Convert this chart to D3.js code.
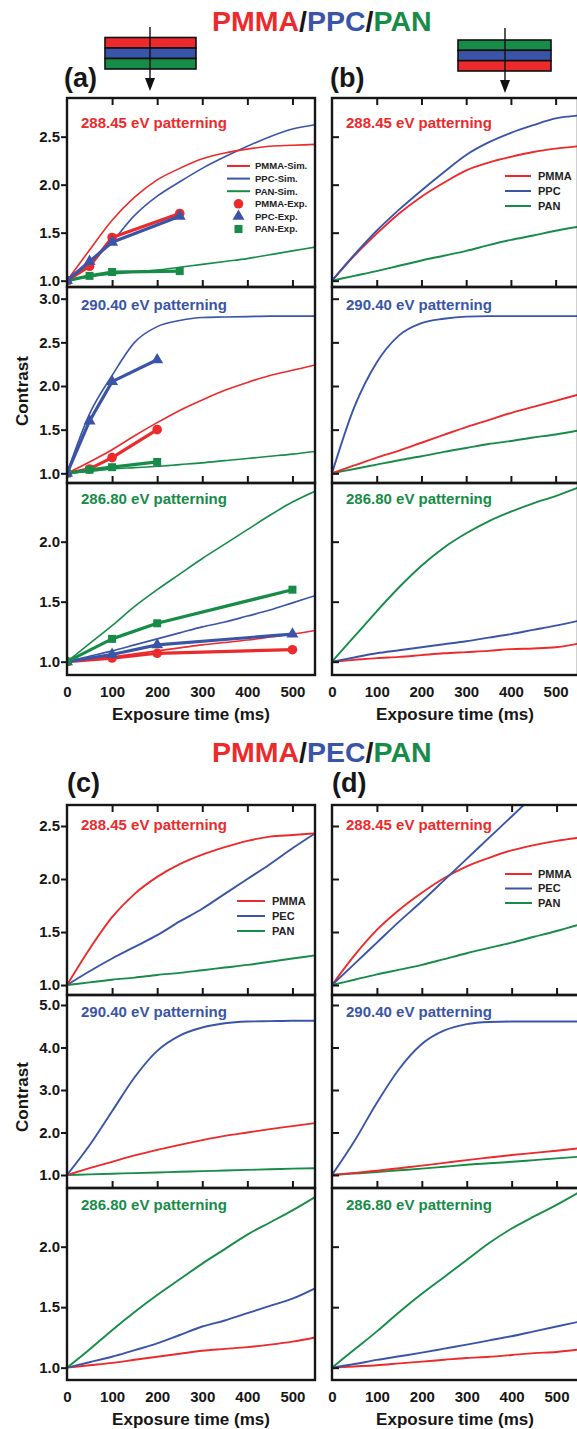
<!DOCTYPE html>
<html><head><meta charset="utf-8">
<script src="https://cdn.jsdelivr.net/npm/d3@7"></script>
<style>
body{margin:0;background:#fff;}
text{font-family:"Liberation Sans",Arial,sans-serif;}
</style></head>
<body>
<svg id="c" width="577" height="1429"></svg>
<script>
// ---------------- DATA ----------------
const T = [0,50,100,150,200,250,300,350,400,450,500,550];      // exposure time (ms), simulations
const xTicks = [0,100,200,300,400,500];

// PMMA/PPC/PAN, top-down PMMA/PPC/PAN (a)
const a288_PMMA = [1.00,1.32,1.63,1.87,2.05,2.17,2.27,2.33,2.37,2.40,2.41,2.42];
const a288_PPC  = [1.00,1.20,1.41,1.68,1.88,2.03,2.17,2.29,2.40,2.50,2.58,2.625];
const a288_PAN  = [1.00,1.04,1.07,1.09,1.11,1.14,1.17,1.20,1.23,1.27,1.31,1.35];
const a290_PPC  = [1.00,1.68,2.12,2.50,2.68,2.75,2.785,2.79,2.795,2.80,2.80,2.80];
const a290_PMMA = [1.00,1.13,1.27,1.43,1.58,1.72,1.84,1.95,2.04,2.12,2.18,2.24];
const a290_PAN  = [1.00,1.02,1.05,1.065,1.08,1.10,1.12,1.145,1.17,1.195,1.22,1.25];
const a286_PAN  = [1.00,1.15,1.30,1.46,1.60,1.73,1.86,1.98,2.10,2.22,2.33,2.42];
const a286_PPC  = [1.00,1.045,1.09,1.14,1.19,1.24,1.29,1.33,1.38,1.43,1.49,1.55];
const a286_PMMA = [1.00,1.02,1.04,1.065,1.09,1.115,1.14,1.16,1.18,1.205,1.23,1.26];

// experiments (a)
const a288_expT = [0,50,100,250];
const a288_PMMA_exp = [1.00,1.15,1.45,1.70];
const a288_PPC_exp  = [1.00,1.20,1.40,1.67];
const a288_PAN_exp  = [1.00,1.05,1.09,1.10];
const a290_expT = [0,50,100,200];
const a290_PPC_exp  = [1.00,1.60,2.05,2.30];
const a290_PMMA_exp = [1.00,1.05,1.18,1.50];
const a290_PAN_exp  = [1.00,1.04,1.07,1.13];
const a286_expT = [0,100,200,500];
const a286_PAN_exp  = [1.00,1.19,1.32,1.60];
const a286_PPC_exp  = [1.00,1.06,1.14,1.23];
const a286_PMMA_exp = [1.00,1.03,1.07,1.10];

// (b) reversed stack
const b288_PPC  = [1.00,1.27,1.52,1.74,1.94,2.13,2.31,2.44,2.54,2.62,2.69,2.72];
const b288_PMMA = [1.00,1.26,1.49,1.70,1.875,2.02,2.15,2.23,2.29,2.34,2.375,2.40];
const b288_PAN  = [1.00,1.05,1.10,1.155,1.21,1.26,1.31,1.37,1.425,1.47,1.52,1.56];
const b290_PPC  = [1.00,1.76,2.27,2.58,2.72,2.77,2.795,2.80,2.80,2.80,2.80,2.80];
const b290_PMMA = [1.00,1.09,1.18,1.26,1.35,1.44,1.53,1.61,1.69,1.76,1.83,1.90];
const b290_PAN  = [1.00,1.05,1.10,1.15,1.195,1.245,1.29,1.335,1.37,1.41,1.445,1.49];
const b286_PAN  = [1.00,1.21,1.42,1.62,1.80,1.95,2.07,2.17,2.25,2.32,2.38,2.45];
const b286_PPC  = [1.00,1.035,1.07,1.095,1.12,1.145,1.17,1.20,1.23,1.265,1.30,1.34];
const b286_PMMA = [1.00,1.015,1.03,1.04,1.055,1.07,1.08,1.09,1.105,1.11,1.12,1.15];

// (c) PMMA/PEC/PAN
const c288_PMMA = [1.00,1.34,1.64,1.86,2.02,2.14,2.23,2.30,2.36,2.40,2.415,2.43];
const c288_PEC  = [1.00,1.13,1.25,1.36,1.47,1.60,1.72,1.86,2.00,2.14,2.29,2.43];
const c288_PAN  = [1.00,1.025,1.05,1.07,1.095,1.115,1.14,1.165,1.19,1.22,1.25,1.28];
const c290_PEC  = [1.00,1.70,2.50,3.30,3.92,4.28,4.47,4.57,4.61,4.62,4.63,4.63];
const c290_PMMA = [1.00,1.16,1.31,1.46,1.59,1.71,1.82,1.92,2.00,2.08,2.15,2.22];
const c290_PAN  = [1.00,1.015,1.03,1.045,1.06,1.075,1.09,1.105,1.12,1.135,1.15,1.16];
const c286_PAN  = [1.00,1.15,1.31,1.46,1.60,1.73,1.86,1.98,2.10,2.20,2.30,2.41];
const c286_PEC  = [1.00,1.045,1.09,1.145,1.20,1.27,1.34,1.39,1.45,1.51,1.57,1.655];
const c286_PMMA = [1.00,1.02,1.04,1.065,1.09,1.115,1.14,1.155,1.17,1.19,1.215,1.25];

// (d)
const d288_PMMA = [1.00,1.28,1.52,1.71,1.87,2.01,2.12,2.20,2.27,2.32,2.36,2.39];
const d288_PEC  = [1.00,1.20,1.40,1.60,1.79,1.99,2.19,2.39,2.59,2.79,2.99,3.18];
const d288_PAN  = [1.00,1.05,1.10,1.145,1.19,1.245,1.30,1.35,1.40,1.455,1.51,1.57];
const d290_PEC  = [1.00,1.80,2.70,3.50,4.08,4.40,4.55,4.60,4.61,4.61,4.61,4.61];
const d290_PMMA = [1.00,1.05,1.10,1.16,1.22,1.285,1.35,1.41,1.47,1.52,1.57,1.63];
const d290_PAN  = [1.00,1.035,1.07,1.11,1.15,1.195,1.24,1.275,1.31,1.35,1.39,1.43];
const d286_PAN  = [1.00,1.15,1.30,1.46,1.61,1.75,1.89,2.03,2.15,2.25,2.345,2.45];
const d286_PEC  = [1.00,1.03,1.064,1.094,1.124,1.157,1.19,1.225,1.26,1.30,1.34,1.38];
const d286_PMMA = [1.00,1.01,1.02,1.035,1.05,1.065,1.08,1.09,1.105,1.12,1.13,1.15];

const ticksA1 = [1.0,1.5,2.0,2.5];
const ticksA2 = [1.0,1.5,2.0,2.5,3.0];
const ticksA3 = [1.0,1.5,2.0];
const ticksC1 = [1.0,1.5,2.0,2.5];
const ticksC2 = [1.0,2.0,3.0,4.0,5.0];
const ticksC3 = [1.0,1.5,2.0];

// ---------------- STYLE ----------------
const RED = "#ec2a2c", BLUE = "#3a55a8", GREEN = "#178c48", INK = "#161616";
const FONT = '"Liberation Sans",Arial,sans-serif';
const svg = d3.select("#c");

// titles
function title(y, mid) {
  const t = svg.append("text").attr("x", 212).attr("y", y)
    .attr("font-size", 28.5).attr("font-weight", "bold");
  t.append("tspan").attr("fill", RED).text("PMMA");
  t.append("tspan").attr("fill", INK).text("/");
  t.append("tspan").attr("fill", BLUE).text(mid);
  t.append("tspan").attr("fill", INK).text("/");
  t.append("tspan").attr("fill", GREEN).text("PAN");
}
title(31, "PPC");
title(762, "PEC");

// layer stack icons
function stack(x, y, w, h, cols, ax, ay0, ay1) {
  const g = svg.append("g");
  const lh = h / 3;
  cols.forEach((c, i) => g.append("rect").attr("x", x).attr("y", y + i * lh)
    .attr("width", w).attr("height", lh).attr("fill", c)
    .attr("stroke", "#111").attr("stroke-width", 1.6));
  g.append("line").attr("x1", ax).attr("x2", ax).attr("y1", ay0).attr("y2", ay1 - 10)
    .attr("stroke", "#111").attr("stroke-width", 1.4);
  g.append("path").attr("d", `M${ax-5},${ay1-13}L${ax+5},${ay1-13}L${ax},${ay1}Z`).attr("fill", "#111");
}
stack(105, 37.5, 91, 31.5, [RED, BLUE, GREEN], 150, 27, 91);
stack(458, 40, 93, 31, [GREEN, BLUE, RED], 505, 28, 93);

// panel letters
[["(a)", 64, 87], ["(b)", 330, 87], ["(c)", 67, 792], ["(d)", 332, 792]].forEach(([s, x, y]) =>
  svg.append("text").attr("x", x).attr("y", y).attr("font-size", 27).attr("font-weight", "bold")
    .attr("fill", INK).text(s));

const sym = {
  circle: d3.symbol().type(d3.symbolCircle).size(72),
  triangle: d3.symbol().type(d3.symbolTriangle).size(62),
  square: d3.symbol().type(d3.symbolSquare).size(64)
};

let clipN = 0;
function drawPanel(p) {
  const x = d3.scaleLinear().domain([0, 550]).range(p.xr);
  p.subs.forEach((s, i) => {
    const y = d3.scaleLinear().domain(s.domain).range(s.range);
    const g = svg.append("g");
    const id = "clip" + (clipN++);
    g.append("clipPath").attr("id", id).append("rect")
      .attr("x", p.xr[0]).attr("y", s.range[1])
      .attr("width", p.xr[1] - p.xr[0]).attr("height", s.range[0] - s.range[1]);
    const plot = g.append("g").attr("clip-path", `url(#${id})`);
    const simLine = d3.line().x((d, k) => x(T[k])).y(d => y(d)).curve(d3.curveMonotoneX);
    s.sims.forEach(ser => plot.append("path").attr("d", simLine(ser.v))
      .attr("fill", "none").attr("stroke", ser.c).attr("stroke-width", p.lw));
    (s.exps || []).forEach(ser => {
      const pts = ser.t.map((t, k) => [x(t), y(ser.v[k])]);
      plot.append("path").attr("d", d3.line()(pts)).attr("fill", "none")
        .attr("stroke", ser.c).attr("stroke-width", 3.2).attr("stroke-linejoin", "round");
      pts.forEach(pt => plot.append("path").attr("d", sym[ser.m]())
        .attr("transform", `translate(${pt[0]},${pt[1]})`).attr("fill", ser.c));
    });
    // y axis
    const yAx = p.ylab
      ? d3.axisLeft(y).tickValues(s.ticks).tickSize(6).tickPadding(1).tickFormat(d3.format(".1f"))
      : d3.axisRight(y).tickValues(s.ticks).tickSize(7).tickFormat("");
    const ya = g.append("g").attr("transform", `translate(${p.xr[0]},0)`).call(yAx);
    ya.select(".domain").remove();
    ya.selectAll("line").attr("stroke", INK).attr("stroke-width", 2);
    ya.selectAll("text").attr("font-size", 15).attr("font-weight", "bold").attr("fill", INK)
      .attr("font-family", FONT);
    // x ticks
    const inner = xTicks.slice(1);
    if (i < 2) {
      const xa = g.append("g").attr("transform", `translate(0,${s.range[0]})`)
        .call(d3.axisTop(x).tickValues(inner).tickSize(7).tickFormat(""));
      xa.select(".domain").remove();
      xa.selectAll("line").attr("stroke", INK).attr("stroke-width", 2);
    }
    if (i === 0) {
      const xa = g.append("g").attr("transform", `translate(0,${s.range[1]})`)
        .call(d3.axisBottom(x).tickValues(inner).tickSize(7).tickFormat(""));
      xa.select(".domain").remove();
      xa.selectAll("line").attr("stroke", INK).attr("stroke-width", 2);
    }
    if (i === 2) {
      const xa = g.append("g").attr("transform", `translate(0,${s.range[0]})`)
        .call(d3.axisBottom(x).tickValues(xTicks).tickSize(0).tickPadding(11).tickFormat(d3.format("d")));
      xa.select(".domain").remove();
      xa.selectAll("text").attr("font-size", 15).attr("font-weight", "bold").attr("fill", INK)
        .attr("font-family", FONT);
      g.append("text").attr("x", (p.xr[0] + Math.min(p.xr[1], 578)) / 2).attr("y", s.range[0] + 45)
        .attr("text-anchor", "middle").attr("font-size", 17).attr("font-weight", "bold")
        .attr("fill", INK).text("Exposure time (ms)");
    }
    // frame
    g.append("rect").attr("x", p.xr[0]).attr("y", s.range[1])
      .attr("width", p.xr[1] - p.xr[0]).attr("height", s.range[0] - s.range[1])
      .attr("fill", "none").attr("stroke", INK).attr("stroke-width", 2.4);
    // energy label
    g.append("text").attr("x", p.xr[0] + 14).attr("y", s.labelY)
      .attr("font-size", 15).attr("font-weight", "bold").attr("fill", s.lc).text(s.label);
    // legend
    if (s.legend) {
      const L = s.legend;
      L.items.forEach((it, k) => {
        const yy = L.y + k * L.dy;
        if (it.m) {
          g.append("path").attr("d", sym[it.m]()).attr("transform", `translate(${(L.x0 + L.x1) / 2},${yy})`)
            .attr("fill", it.c);
        } else {
          g.append("line").attr("x1", L.x0).attr("x2", L.x1).attr("y1", yy).attr("y2", yy)
            .attr("stroke", it.c).attr("stroke-width", 2);
        }
        g.append("text").attr("x", L.tx).attr("y", yy).attr("dy", "0.35em")
          .attr("font-size", L.fs).attr("font-weight", "bold").attr("fill", "#222").text(it.name);
      });
    }
  });
  if (p.ylab) {
    svg.append("text").attr("transform", `translate(27.5,${p.cy}) rotate(-90)`)
      .attr("text-anchor", "middle").attr("font-size", 17).attr("font-weight", "bold")
      .attr("fill", INK).text("Contrast");
  }
}

const top3 = [
  {range: [287, 98], domain: [0.934, 2.903], ticks: ticksA1, label: "288.45 eV patterning", lc: RED, labelY: 128},
  {range: [483, 287], domain: [0.889, 3.134], ticks: ticksA2, label: "290.40 eV patterning", lc: BLUE, labelY: 310},
  {range: [675, 483], domain: [0.889, 2.489], ticks: ticksA3, label: "286.80 eV patterning", lc: GREEN, labelY: 504}
];
const bot3 = [
  {range: [995, 805], domain: [0.906, 2.698], ticks: ticksC1, label: "288.45 eV patterning", lc: RED, labelY: 830},
  {range: [1188, 995], domain: [0.694, 5.235], ticks: ticksC2, label: "290.40 eV patterning", lc: BLUE, labelY: 1017},
  {range: [1380, 1188], domain: [0.898, 2.485], ticks: ticksC3, label: "286.80 eV patterning", lc: GREEN, labelY: 1210}
];
const S = (v, c) => ({v, c});
const E = (t, v, c, m) => ({t, v, c, m});

drawPanel({xr: [67, 315], ylab: true, lw: 1.6, cy: 391, subs: [
  Object.assign({}, top3[0], {
    sims: [S(a288_PAN, GREEN), S(a288_PPC, BLUE), S(a288_PMMA, RED)],
    exps: [E(a288_expT, a288_PAN_exp, GREEN, "square"), E(a288_expT, a288_PMMA_exp, RED, "circle"), E(a288_expT, a288_PPC_exp, BLUE, "triangle")],
    legend: {x0: 227, x1: 250, tx: 255, y: 166, dy: 12.6, fs: 9.5, items: [
      {name: "PMMA-Sim.", c: RED}, {name: "PPC-Sim.", c: BLUE}, {name: "PAN-Sim.", c: GREEN},
      {name: "PMMA-Exp.", c: RED, m: "circle"}, {name: "PPC-Exp.", c: BLUE, m: "triangle"}, {name: "PAN-Exp.", c: GREEN, m: "square"}]}
  }),
  Object.assign({}, top3[1], {
    sims: [S(a290_PAN, GREEN), S(a290_PMMA, RED), S(a290_PPC, BLUE)],
    exps: [E(a290_expT, a290_PMMA_exp, RED, "circle"), E(a290_expT, a290_PAN_exp, GREEN, "square"), E(a290_expT, a290_PPC_exp, BLUE, "triangle")]
  }),
  Object.assign({}, top3[2], {
    sims: [S(a286_PMMA, RED), S(a286_PPC, BLUE), S(a286_PAN, GREEN)],
    exps: [E(a286_expT, a286_PMMA_exp, RED, "circle"), E(a286_expT, a286_PPC_exp, BLUE, "triangle"), E(a286_expT, a286_PAN_exp, GREEN, "square")]
  })
]});

drawPanel({xr: [332, 578], ylab: false, lw: 1.9, subs: [
  Object.assign({}, top3[0], {
    sims: [S(b288_PAN, GREEN), S(b288_PMMA, RED), S(b288_PPC, BLUE)],
    legend: {x0: 505, x1: 531, tx: 538, y: 176, dy: 15, fs: 11, items: [
      {name: "PMMA", c: RED}, {name: "PPC", c: BLUE}, {name: "PAN", c: GREEN}]}
  }),
  Object.assign({}, top3[1], {sims: [S(b290_PAN, GREEN), S(b290_PMMA, RED), S(b290_PPC, BLUE)]}),
  Object.assign({}, top3[2], {sims: [S(b286_PMMA, RED), S(b286_PPC, BLUE), S(b286_PAN, GREEN)]})
]});

drawPanel({xr: [67, 315], ylab: true, lw: 1.9, cy: 1097, subs: [
  Object.assign({}, bot3[0], {
    sims: [S(c288_PAN, GREEN), S(c288_PEC, BLUE), S(c288_PMMA, RED)],
    legend: {x0: 237, x1: 265, tx: 272, y: 901, dy: 15, fs: 11, items: [
      {name: "PMMA", c: RED}, {name: "PEC", c: BLUE}, {name: "PAN", c: GREEN}]}
  }),
  Object.assign({}, bot3[1], {sims: [S(c290_PAN, GREEN), S(c290_PMMA, RED), S(c290_PEC, BLUE)]}),
  Object.assign({}, bot3[2], {sims: [S(c286_PMMA, RED), S(c286_PEC, BLUE), S(c286_PAN, GREEN)]})
]});

drawPanel({xr: [332, 579], ylab: false, lw: 1.9, subs: [
  Object.assign({}, bot3[0], {
    sims: [S(d288_PAN, GREEN), S(d288_PMMA, RED), S(d288_PEC, BLUE)],
    legend: {x0: 505, x1: 532, tx: 538, y: 874, dy: 14.5, fs: 11, items: [
      {name: "PMMA", c: RED}, {name: "PEC", c: BLUE}, {name: "PAN", c: GREEN}]}
  }),
  Object.assign({}, bot3[1], {sims: [S(d290_PAN, GREEN), S(d290_PMMA, RED), S(d290_PEC, BLUE)]}),
  Object.assign({}, bot3[2], {sims: [S(d286_PMMA, RED), S(d286_PEC, BLUE), S(d286_PAN, GREEN)]})
]});
</script>
</body></html>
